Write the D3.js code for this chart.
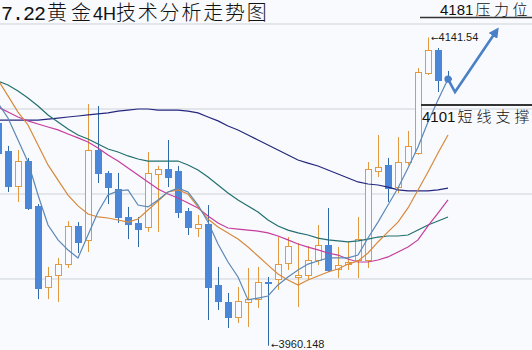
<!DOCTYPE html>
<html>
<head>
<meta charset="utf-8">
<script src="https://cdn.jsdelivr.net/npm/d3@7"></script>
<style>
  html, body { margin: 0; padding: 0; background: #f8fafe; }
  figure { margin: 0; }
  svg { display: block; }
</style>
</head>
<body>
<figure></figure>
<script>
// 4H candles, left to right (bar index 0..45)
const bars = d3.range(46);

const open = [4091.2, 4074.7, 4054.1, 4068.8, 4042.4, 3994.7, 4001.8, 4008.2, 4030.6, 4022.4,
  4075.3, 4061.8, 4052.4, 4035.9, 4032.4, 4030.0, 4061.2, 4064.1, 4062.9, 4039.4,
  4029.4, 4031.8, 3995.9, 3985.9, 3977.1, 3985.9, 3987.6, 3997.6, 3999.4, 4008.8,
  4000.6, 4001.8, 4010.6, 4019.4, 4005.3, 4008.2, 4010.6, 4010.6, 4062.9, 4066.5,
  4053.5, 4068.2, 4073.5, 4120.6, 4134.1, 4117.5];
const high = [4095.9, 4077.7, 4075.3, 4070.6, 4043.5, 4006.5, 4011.8, 4033.5, 4032.9, 4102.4,
  4101.2, 4062.9, 4061.8, 4041.8, 4035.9, 4074.1, 4065.9, 4081.2, 4065.9, 4041.2,
  4037.1, 4042.9, 4006.5, 3991.2, 3994.7, 4005.9, 4006.5, 4000.6, 4024.1, 4024.1,
  4020.6, 4018.8, 4031.2, 4041.2, 4018.2, 4021.2, 4035.9, 4068.2, 4084.1, 4070.6,
  4082.9, 4086.5, 4123.5, 4141.54, 4135.3, 4121.8];
const low = [4069.4, 4050.6, 4044.7, 4040.0, 3987.6, 3987.6, 3985.9, 4005.9, 4014.7, 4015.3,
  4055.9, 4043.5, 4032.4, 4022.9, 4018.2, 4027.1, 4027.1, 4053.5, 4035.3, 4025.3,
  4024.1, 3975.3, 3981.2, 3970.6, 3973.5, 3971.2, 3982.4, 3960.148, 3993.0, 4004.7,
  3982.9, 3998.8, 4007.6, 4003.5, 4000.0, 4004.7, 4000.0, 4005.9, 4059.4, 4044.7,
  4050.0, 4066.5, 4072.4, 4119.4, 4109.4, 4116.5];
const close = [4073.5, 4054.1, 4068.8, 4041.2, 3994.1, 4001.2, 4008.2, 4030.6, 4021.2, 4075.3,
  4061.8, 4053.5, 4035.9, 4031.8, 4028.8, 4061.8, 4064.1, 4059.4, 4038.8, 4030.0,
  4031.8, 3994.7, 3986.5, 3977.1, 3986.5, 3987.6, 3997.6, 3996.8, 4008.2, 4018.8,
  4001.8, 4010.6, 4019.4, 4004.7, 4007.6, 4009.4, 4022.9, 4064.1, 4065.3, 4052.9,
  4068.2, 4077.7, 4121.2, 4134.1, 4116.5, 4117.0];

// moving averages
const ma5 = [4102.9, 4094.1, 4081.2, 4068.2, 4048.8, 4031.2, 4022.4, 4016.5, 4011.8, 4025.3,
  4038.8, 4048.8, 4051.2, 4051.8, 4042.9, 4041.8, 4045.9, 4050.6, 4052.9, 4050.6,
  4042.9, 4032.9, 4020.0, 4009.4, 4000.6, 3987.1, 3988.2, 3989.4, 3995.9, 4000.6,
  4004.7, 4008.2, 4010.0, 4011.8, 4011.8, 4011.8, 4013.5, 4023.5, 4032.9, 4042.9,
  4052.9, 4064.7, 4077.1, 4091.8, 4104.7, 4117.1];
const ma10 = [4116.5, 4107.1, 4097.6, 4090.0, 4078.2, 4066.5, 4057.6, 4048.8, 4042.4, 4037.6,
  4035.9, 4035.3, 4034.1, 4032.9, 4034.7, 4040.0, 4045.3, 4050.6, 4051.8, 4049.4,
  4041.8, 4034.7, 4030.0, 4026.5, 4022.9, 4018.2, 4012.9, 4007.6, 4002.4, 3998.8,
  3995.9, 3998.8, 4001.2, 4003.5, 4005.3, 4008.2, 4010.0, 4014.7, 4021.2, 4027.1,
  4032.9, 4041.2, 4051.8, 4062.4, 4073.5, 4084.1];
const ma20 = [4100.6, 4097.6, 4094.7, 4092.4, 4090.6, 4088.8, 4087.1, 4084.7, 4082.4, 4080.0,
  4076.5, 4072.4, 4068.8, 4064.7, 4060.6, 4056.5, 4052.4, 4049.4, 4047.1, 4044.1,
  4041.2, 4036.5, 4032.4, 4029.4, 4028.8, 4028.2, 4027.6, 4026.5, 4024.7, 4022.4,
  4020.0, 4018.2, 4016.5, 4014.7, 4013.5, 4011.2, 4009.4, 4009.4, 4010.6, 4012.4,
  4015.3, 4018.2, 4022.4, 4030.6, 4038.2, 4045.9];
const ma30 = [4115.9, 4113.5, 4110.0, 4105.9, 4101.2, 4095.9, 4091.8, 4087.6, 4084.1, 4081.8,
  4078.8, 4075.9, 4074.1, 4071.8, 4070.0, 4068.8, 4068.8, 4068.8, 4068.8, 4066.5,
  4063.5, 4059.4, 4054.7, 4050.0, 4045.9, 4042.4, 4038.8, 4034.1, 4030.6, 4028.2,
  4026.5, 4025.3, 4023.5, 4022.4, 4021.8, 4021.2, 4021.8, 4022.9, 4024.1, 4024.7,
  4024.7, 4025.3, 4028.2, 4031.2, 4033.5, 4035.9];
const ma60 = [4092.9, 4092.9, 4092.9, 4092.9, 4092.9, 4093.5, 4094.1, 4094.7, 4095.3, 4095.9,
  4096.5, 4097.1, 4098.2, 4098.8, 4099.4, 4099.4, 4098.8, 4098.8, 4098.8, 4098.2,
  4097.1, 4094.7, 4092.4, 4089.4, 4087.1, 4084.1, 4081.2, 4078.2, 4075.3, 4072.4,
  4069.4, 4067.6, 4065.9, 4063.5, 4061.2, 4058.8, 4056.5, 4055.3, 4054.7, 4053.5,
  4051.8, 4051.2, 4051.2, 4051.2, 4051.8, 4052.9];

const gridLevels = [4000, 4050, 4100, 4150];
const supportLevel = 4101;
// forecast arrow: [bar position, price]
const forecastPos = [45, 45.7, 49.9];
const forecastPrice = [4117.0, 4109.4, 4145.9];

(() => {
  const width = 532;
  const height = 350;
  const bg = '#f8fafe';
  const up = '#e39a3e';
  const down = '#4a87d9';
  const downWick = '#2f68a6';

  const svg = d3.select('figure').append('svg')
    .attr('width', width)
    .attr('height', height)
    .style('background', bg);

  const x = d3.scaleLinear().domain([0, 45]).range([-2, 448]);
  const y = d3.scaleLinear().domain([4000, 4100]).range([278, 108]);

  // horizontal grid
  svg.append('g')
    .attr('transform', 'translate(0,0.5)')
    .call(d3.axisLeft(y).tickValues(gridLevels).tickSize(-width).tickFormat(''))
    .call(g => g.select('.domain').remove())
    .call(g => g.selectAll('line').attr('stroke', '#cdd1d6'));

  // candles
  const candle = svg.append('g').selectAll('g')
    .data(bars)
    .join('g')
    .attr('transform', i => 'translate(' + Math.round(x(i)) + ',0)');

  candle.append('line')
    .attr('x1', 0.5).attr('x2', 0.5)
    .attr('y1', i => y(high[i]))
    .attr('y2', i => y(low[i]))
    .attr('stroke', i => close[i] >= open[i] ? up : downWick)
    .attr('stroke-width', 1);

  candle.append('rect')
    .attr('x', -2.5)
    .attr('width', 6)
    .attr('y', i => Math.round(y(Math.max(open[i], close[i]))) + 0.5)
    .attr('height', i => Math.max(1, Math.round(Math.abs(y(open[i]) - y(close[i])))))
    .attr('fill', i => close[i] >= open[i] ? bg : down)
    .attr('stroke', i => close[i] >= open[i] ? up : down)
    .attr('stroke-width', 1);

  // moving averages
  const line = d3.line().x((d, i) => x(i)).y(d => y(d));
  const series = [
    [ma60, '#27277f'],
    [ma30, '#22706f'],
    [ma20, '#c63d9d'],
    [ma10, '#d8893a'],
    [ma5, '#5c88b6']
  ];
  svg.append('g').selectAll('path')
    .data(series)
    .join('path')
    .attr('d', d => line(d[0]))
    .attr('fill', 'none')
    .attr('stroke', d => d[1])
    .attr('stroke-width', 1.2);

  // forecast arrow
  svg.append('defs').append('marker')
    .attr('id', 'head')
    .attr('viewBox', '0 0 10 10')
    .attr('refX', 7).attr('refY', 5)
    .attr('markerWidth', 4).attr('markerHeight', 4)
    .attr('orient', 'auto')
    .append('path')
    .attr('d', 'M0,0L10,5L0,10Z')
    .attr('fill', '#4a80c6');

  svg.append('path')
    .attr('d', d3.line()(forecastPos.map((p, k) => [x(p), y(forecastPrice[k])])))
    .attr('fill', 'none')
    .attr('stroke', '#4a80c6')
    .attr('stroke-width', 2.6)
    .attr('marker-end', 'url(#head)');

  svg.append('circle')
    .attr('cx', x(forecastPos[0]))
    .attr('cy', y(forecastPrice[0]))
    .attr('r', 3.6)
    .attr('fill', '#4a80c6');

  // high / low labels
  const hiIdx = high.indexOf(d3.max(high));
  const loIdx = low.indexOf(d3.min(low));
  const marks = [[hiIdx, high[hiIdx], '4141.54', 4], [loIdx, low[loIdx], '3960.148', 2]];
  const mk = svg.append('g').selectAll('text')
    .data(marks)
    .join('text')
    .attr('x', d => Math.round(x(d[0])) + 3)
    .attr('y', d => y(d[1]) + d[3])
    .attr('font-family', 'Liberation Sans, Arial, sans-serif')
    .attr('font-size', 11)
    .attr('fill', '#1a1a1a');
  mk.append('tspan').attr('font-family', 'DejaVu Sans').attr('font-size', 9).text('←');
  mk.append('tspan').text(d => d[2]);

  // title
  const title = svg.append('text')
    .attr('y', 20)
    .attr('font-size', 20)
    .attr('fill', '#111');
  title.append('tspan').attr('x', 1)
    .attr('font-family', 'Liberation Mono, monospace').attr('letter-spacing', -1).text('7.22');
  title.append('tspan').attr('x', 47)
    .attr('font-family', 'Noto Sans CJK SC').attr('font-weight', 300).attr('letter-spacing', 4).text('黄金');
  title.append('tspan').attr('x', 93)
    .attr('font-family', 'Liberation Sans').attr('font-size', 18).text('4H');
  title.append('tspan').attr('x', 116)
    .attr('font-family', 'Noto Sans CJK SC').attr('font-weight', 300).attr('letter-spacing', 1.8).text('技术分析走势图');

  // resistance note
  svg.append('line')
    .attr('x1', 420).attr('x2', width)
    .attr('y1', 17.5).attr('y2', 17.5)
    .attr('stroke', '#333').attr('stroke-width', 1.5);
  const res = svg.append('text')
    .attr('x', 440).attr('y', 15)
    .attr('font-size', 15)
    .attr('fill', '#111');
  res.append('tspan').attr('font-family', 'Liberation Sans').text('4181');
  res.append('tspan').attr('font-family', 'Noto Sans CJK SC').attr('font-weight', 300).attr('dx', 2).attr('letter-spacing', 3.5).text('压力位');

  // support note
  const sy = Math.round(y(supportLevel)) - 1;
  svg.append('line')
    .attr('x1', 421).attr('x2', width)
    .attr('y1', sy).attr('y2', sy)
    .attr('stroke', '#333').attr('stroke-width', 2);
  const sup = svg.append('text')
    .attr('x', 422).attr('y', sy + 17)
    .attr('font-size', 15)
    .attr('fill', '#111');
  sup.append('tspan').attr('font-family', 'Liberation Sans').text('4101');
  sup.append('tspan').attr('font-family', 'Noto Sans CJK SC').attr('font-weight', 300).attr('dx', 2).attr('letter-spacing', 4).text('短线支撑');
})();
</script>
</body>
</html>
